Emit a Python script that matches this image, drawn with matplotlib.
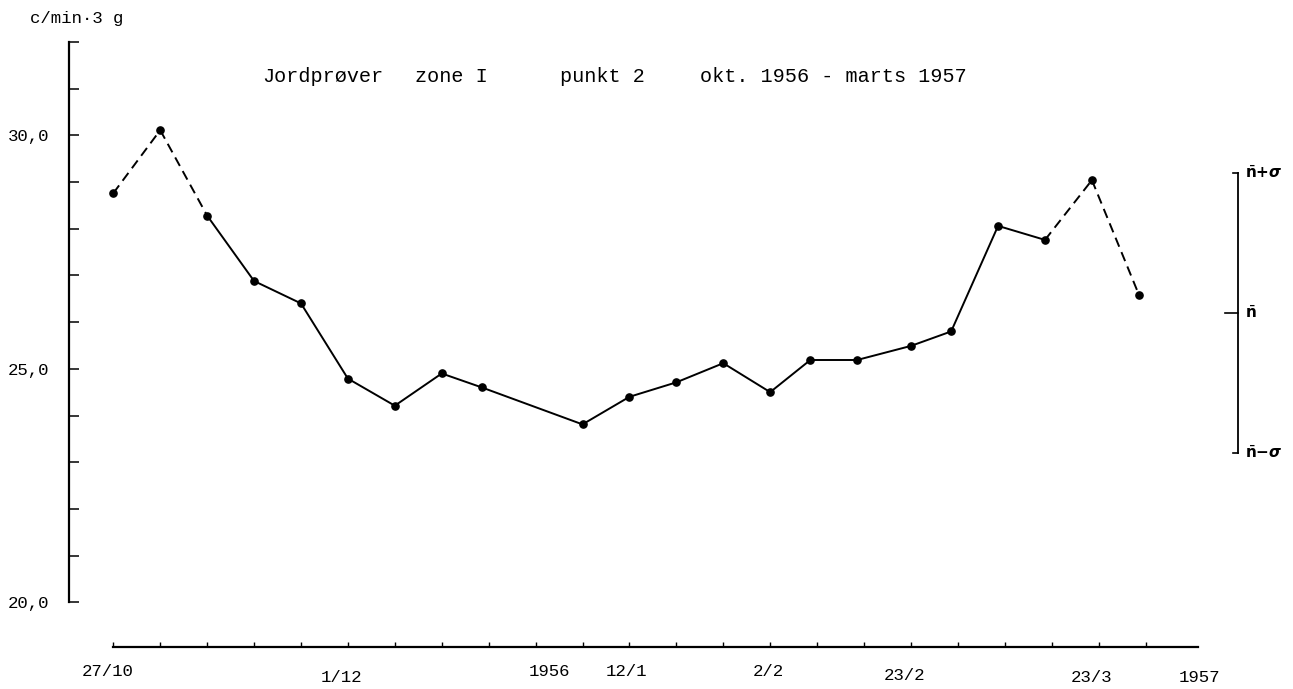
import matplotlib
matplotlib.use("Agg")
import matplotlib.pyplot as plt
from matplotlib.transforms import blended_transform_factory

# ---------------- data ----------------
# sampling day (days after 27/10 1956) and count rate (c/min per 3 g)
days = [0, 7, 14, 21, 28, 35, 42, 49, 55, 70, 77, 84, 91, 98, 104, 111,
        119, 125, 132, 139, 146, 153]
counts = [28.76, 30.11, 28.28, 26.88, 26.40, 24.79, 24.21, 24.90, 24.60,
          23.81, 24.40, 24.71, 25.12, 24.50, 25.19, 25.19, 25.49, 25.80,
          28.06, 27.76, 29.04, 26.59]
dashed_segments = [0, 1, 19, 20]          # segments drawn dashed

n_mean = 26.2
sigma = 3.0

ytick_values = list(range(20, 33))
ytick_labels = {20: "20,0", 25: "25,0", 30: "30,0"}
xtick_days = list(range(0, 155, 7))        # weekly ticks
date_labels = ["27/10", "1/12", "1956", "12/1", "2/2", "23/2", "23/3", "1957"]
date_label_days = [-0.9, 34.0, 65.0, 76.6, 97.7, 118.1, 145.9, 162.0]
date_label_ypx = [671, 677, 671, 672, 672, 676, 677, 677]

title_parts = ["Jordprøver", "zone I", "punkt 2", "okt. 1956 - marts 1957"]
title_xpx = [262, 415, 560, 700]

# ---------------- figure ----------------
W, H = 1293, 689
FONT = "Liberation Mono"
fig = plt.figure(figsize=(W / 100, H / 100), dpi=100)

ax_l, ax_r, ax_t, ax_b = 69, 1250, 40, 647
ax = fig.add_axes([ax_l / W, 1 - ax_b / H, (ax_r - ax_l) / W, (ax_b - ax_t) / H])

px_per_day = 46.92 / 7
x0_px = 113.3
ax.set_xlim((ax_l - x0_px) / px_per_day, (ax_r - x0_px) / px_per_day)
y30_px, px_per_unit = 135.3, 46.7
ax.set_ylim(30 - (ax_b - y30_px) / px_per_unit, 30 + (y30_px - ax_t) / px_per_unit)

# line segments
for i in range(len(days) - 1):
    ls = (0, (5, 3)) if i in dashed_segments else "-"
    ax.plot(days[i:i + 2], counts[i:i + 2], color="black", lw=1.4,
            linestyle=ls, solid_capstyle="butt", dash_capstyle="butt")
ax.plot(days, counts, "o", color="black", ms=5.2, zorder=3)

# spines
for s in ("top", "right"):
    ax.spines[s].set_visible(False)
ax.spines["left"].set_bounds(20, 32)
ax.spines["left"].set_linewidth(1.6)
ax.spines["bottom"].set_bounds(0, (1198 - x0_px) / px_per_day)
ax.spines["bottom"].set_linewidth(1.6)

ax.set_yticks(ytick_values)
ax.set_yticklabels([ytick_labels.get(v, "") for v in ytick_values],
                   fontfamily=FONT, fontsize=12.5)
ax.tick_params(axis="y", direction="in", length=7.5, width=1.1, pad=14)

ax.set_xticks(xtick_days)
ax.set_xticklabels([])
ax.tick_params(axis="x", direction="in", length=3.5, width=1.0)

# date labels under x axis
tr = blended_transform_factory(ax.transData, fig.transFigure)
for lab, d, ypx in zip(date_labels, date_label_days, date_label_ypx):
    ax.text(d, 1 - ypx / H, lab, transform=tr, ha="center", va="center",
            fontfamily=FONT, fontsize=12.5, clip_on=False)

# title
for part, xpx in zip(title_parts, title_xpx):
    fig.text(xpx / W, 1 - 77 / H, part, ha="left", va="center",
             fontfamily=FONT, fontsize=14.5)

# unit label
fig.text(30 / W, 1 - 18 / H, "c/min·3 g", ha="left", va="center",
         fontfamily=FONT, fontsize=12.5)

# right-hand mean +/- sigma scale
bx = (1238 - x0_px) / px_per_day
short = 5 / px_per_day
longt = 13 / px_per_day
ax.plot([bx, bx], [n_mean - sigma, n_mean + sigma], color="black", lw=1.3,
        clip_on=False)
for yv, ln in ((n_mean + sigma, short), (n_mean - sigma, short), (n_mean, longt)):
    ax.plot([bx - ln, bx], [yv, yv], color="black", lw=1.2, clip_on=False)
lx = bx + 7 / px_per_day
ax.text(lx, n_mean + sigma, r"$\bar{\mathbf{n}}\mathbf{+}\boldsymbol{\sigma}$",
        ha="left", va="center", fontsize=11, clip_on=False)
ax.text(lx, n_mean, r"$\bar{\mathbf{n}}$", ha="left", va="center",
        fontsize=11, clip_on=False)
ax.text(lx, n_mean - sigma, r"$\bar{\mathbf{n}}\mathbf{-}\boldsymbol{\sigma}$",
        ha="left", va="center", fontsize=11, clip_on=False)

fig.savefig("out.png", dpi=100)
